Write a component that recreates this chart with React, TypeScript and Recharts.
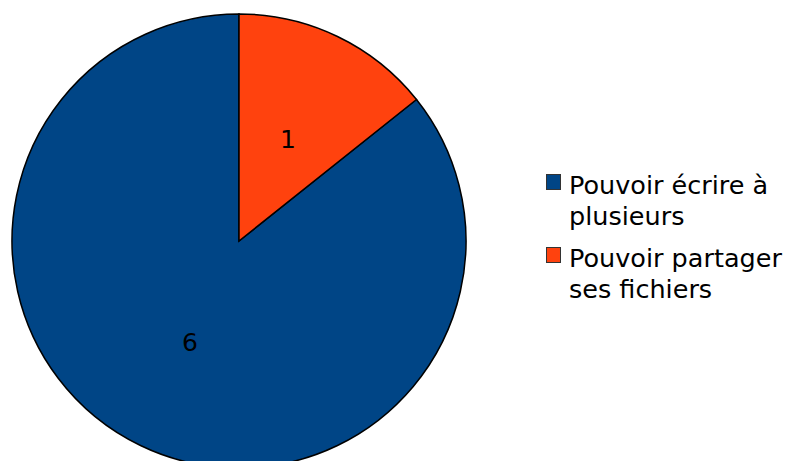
import React from "react";
import { PieChart, Pie, Cell, Legend } from "recharts";

// 데이터
const labels = ["Pouvoir écrire à plusieurs", "Pouvoir partager ses fichiers"];
const counts = [6, 1];
const COLORS = ["#004586", "#ff420e"];

const data = labels.map((name, i) => ({ name, value: counts[i] }));
const total = counts.reduce((a, b) => a + b, 0);
// 주황 조각이 12시 방향에서 시계방향으로 시작하도록
const start = 90 - (360 * counts[1]) / total;

const RAD = Math.PI / 180;
const FONT = "'DejaVu Sans', sans-serif";

const renderLabel = (p: any) => {
  const r = 113;
  const x = p.cx + r * Math.cos(-p.midAngle * RAD);
  const y = p.cy + r * Math.sin(-p.midAngle * RAD);
  return (
    <text x={x} y={y} fill="#000" fontSize={25} fontFamily={FONT} textAnchor="middle" dominantBaseline="central">
      {p.value}
    </text>
  );
};

const renderLegend = () => (
  <div style={{ fontFamily: FONT, fontSize: 25.5, color: "#000" }}>
    {data.map((d, i) => (
      <div key={d.name} style={{ display: "flex", alignItems: "flex-start", marginBottom: 11 }}>
        <div
          style={{
            width: 15,
            height: 16,
            boxSizing: "border-box",
            background: COLORS[i],
            border: "1px solid #333",
            marginTop: 4,
            marginRight: 8,
            flexShrink: 0,
          }}
        />
        <div style={{ width: 219, lineHeight: "31px" }}>{d.name}</div>
      </div>
    ))}
  </div>
);

export default function App() {
  return (
    <div style={{ position: "absolute", left: 0, top: 0 }}>
      <PieChart width={788} height={461} margin={{ top: 0, right: 0, bottom: 0, left: 0 }}>
        <Pie
          data={data}
          dataKey="value"
          nameKey="name"
          cx={239}
          cy={241}
          outerRadius={227}
          startAngle={start}
          endAngle={start - 360}
          stroke="#000"
          strokeWidth={1.5}
          label={renderLabel}
          labelLine={false}
          isAnimationActive={false}
        >
          {data.map((d, i) => (
            <Cell key={d.name} fill={COLORS[i]} />
          ))}
        </Pie>
        <Legend content={renderLegend} wrapperStyle={{ left: 546, top: 170, width: 242 }} />
      </PieChart>
    </div>
  );
}
